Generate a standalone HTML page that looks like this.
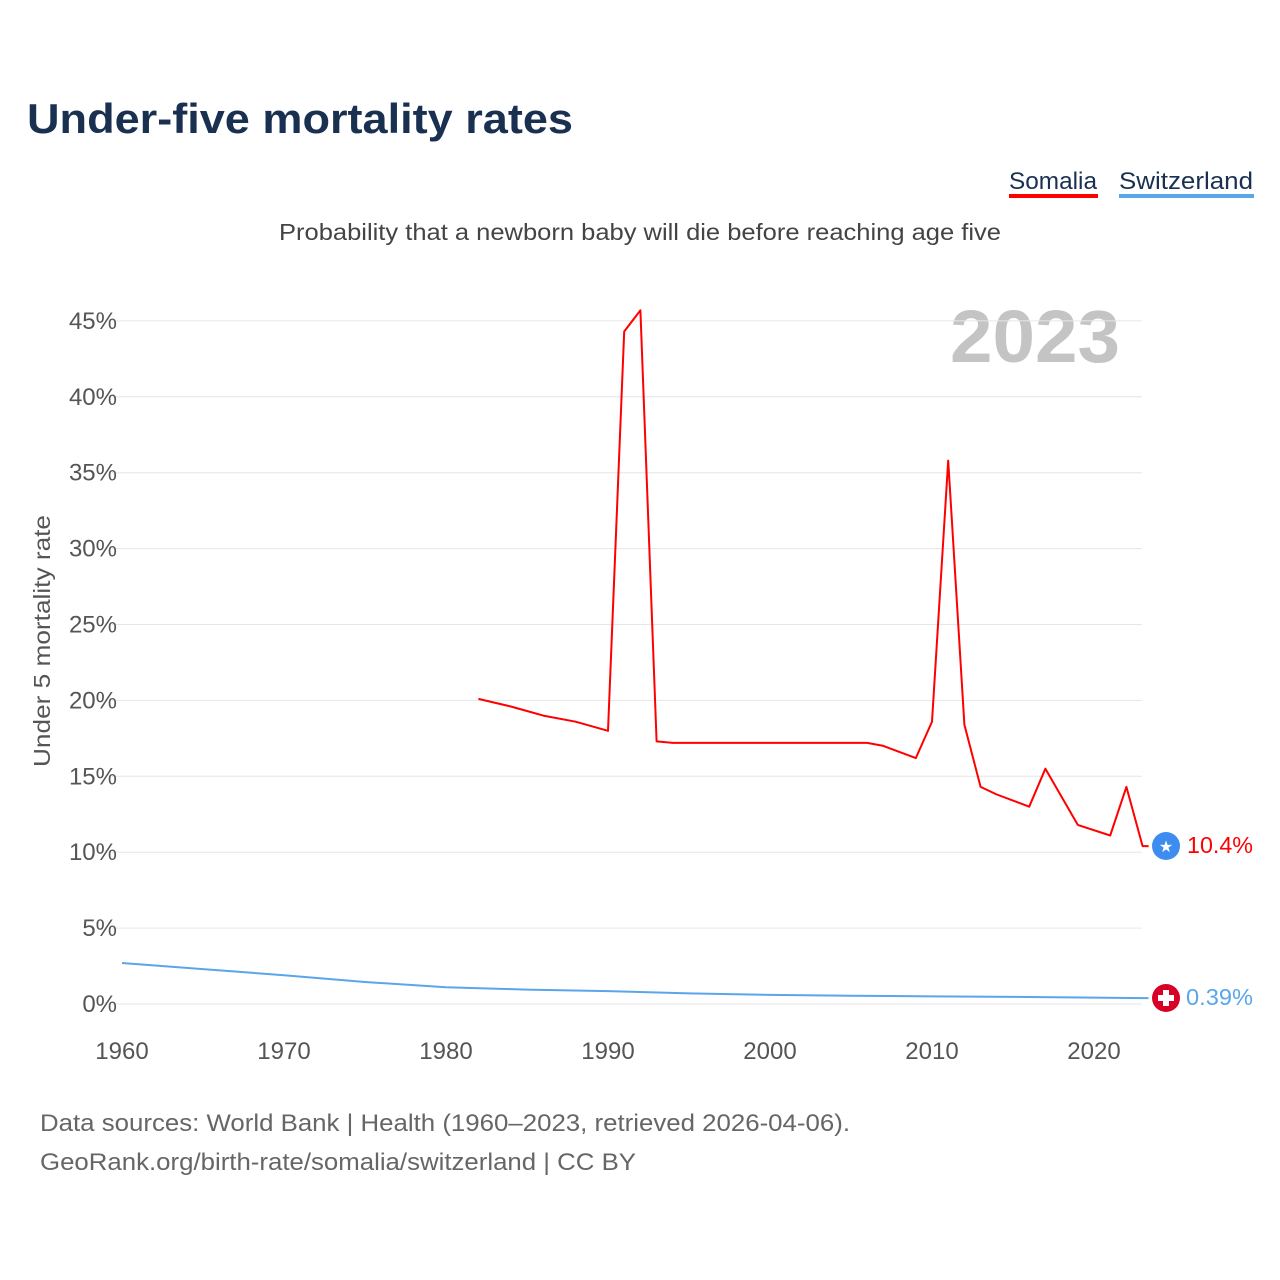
<!DOCTYPE html>
<html><head><meta charset="utf-8"><style>
html,body{margin:0;padding:0;background:#fff;}
svg{display:block;font-family:"Liberation Sans",sans-serif;}
</style></head><body>
<svg id="chart" width="1280" height="1280" viewBox="0 0 1280 1280">
<text x="27" y="133" font-size="42" font-weight="bold" fill="#1a3050" textLength="546" lengthAdjust="spacingAndGlyphs">Under-five mortality rates</text>
<g>
<text x="1009" y="189" font-size="24" fill="#1a3050" textLength="88" lengthAdjust="spacingAndGlyphs">Somalia</text>
<rect x="1009" y="194" width="89" height="4" fill="#ff0000"/>
</g>
<g>
<text x="1119" y="189" font-size="24" fill="#1a3050" textLength="134" lengthAdjust="spacingAndGlyphs">Switzerland</text>
<rect x="1119" y="194" width="135" height="4" fill="#5aa6ea"/>
</g>
<text x="640" y="240" font-size="23" fill="#444" text-anchor="middle" textLength="722" lengthAdjust="spacingAndGlyphs">Probability that a newborn baby will die before reaching age five</text>
<text x="950" y="362" font-size="74" font-weight="bold" fill="#c4c4c4" textLength="170" lengthAdjust="spacingAndGlyphs">2023</text>
<text transform="translate(50,641) rotate(-90)" font-size="23" fill="#555" text-anchor="middle" textLength="252" lengthAdjust="spacingAndGlyphs">Under 5 mortality rate</text>
<g id="grid"></g><g id="yticks"></g><g id="xticks"></g><g id="lines"></g>
<g>
<circle cx="1166" cy="846" r="14" fill="#3d8df0"/>
<text x="1166" y="852" font-size="16" fill="#fff" text-anchor="middle">★</text>
</g>
<text x="1187" y="853" font-size="23" fill="#ff0000" textLength="66" lengthAdjust="spacingAndGlyphs">10.4%</text>
<g>
<circle cx="1166" cy="998" r="14" fill="#d80027"/>
<rect x="1158" y="995" width="16" height="6" fill="#fff"/><rect x="1163" y="990" width="6" height="16" fill="#fff"/>
</g>
<text x="1186" y="1005" font-size="23" fill="#5aa6ea" textLength="67" lengthAdjust="spacingAndGlyphs">0.39%</text>
<text x="40" y="1131" font-size="24" fill="#666" textLength="810" lengthAdjust="spacingAndGlyphs">Data sources: World Bank | Health (1960–2023, retrieved 2026-04-06).</text>
<text x="40" y="1170" font-size="24" fill="#666" textLength="596" lengthAdjust="spacingAndGlyphs">GeoRank.org/birth-rate/somalia/switzerland | CC BY</text>
</svg>
<script>
const yTicks=[0,5,10,15,20,25,30,35,40,45];
const xTicks=[1960,1970,1980,1990,2000,2010,2020];
const somaliaYears=[1982,1984,1985,1986,1988,1990,1991,1992,1993,1994,2006,2007,2009,2010,2011,2012,2013,2014,2016,2017,2019,2021,2022,2023];
const somaliaValues=[20.1,19.6,19.3,19.0,18.6,18.0,44.3,45.7,17.3,17.2,17.2,17.0,16.2,18.6,35.8,18.4,14.3,13.8,13.0,15.5,11.8,11.1,14.3,10.4];
const swissYears=[1960,1965,1970,1975,1980,1985,1990,1995,2000,2005,2010,2015,2020,2023];
const swissValues=[2.7,2.3,1.9,1.45,1.1,0.95,0.85,0.7,0.6,0.55,0.5,0.47,0.42,0.39];
const NS='http://www.w3.org/2000/svg';
const X=y=>122+(y-1960)*16.2;
const Y=v=>1004-v*15.18;
function mk(tag,attrs,parent){const e=document.createElementNS(NS,tag);for(const k in attrs)e.setAttribute(k,attrs[k]);document.getElementById(parent).appendChild(e);return e;}
yTicks.forEach(t=>{
 const l=mk('line',{x1:112,x2:1142,y1:Y(t),y2:Y(t),stroke:'#e6e6e6','stroke-width':1},'grid');
 
 
 const tx=mk('text',{x:117,y:Y(t)+8,'font-size':24,fill:'#555','text-anchor':'end'},'yticks');
 tx.textContent=t+'%';
 
 
});
xTicks.forEach(t=>{
 const tx=mk('text',{x:X(t),y:1059,'font-size':24,fill:'#555','text-anchor':'middle'},'xticks');
 tx.textContent=t;
 
 
});
function line(xs,vs,color){
 let d=xs.map((x,i)=>(i?'L':'M')+X(x).toFixed(1)+','+Y(vs[i]).toFixed(1)).join(' ');
 d+=' L'+(X(xs[xs.length-1])+6).toFixed(1)+','+Y(vs[vs.length-1]).toFixed(1);
 return mk('path',{d:d,fill:'none',stroke:color,'stroke-width':2,'stroke-linejoin':'round'},'lines');
}
const s1=line(swissYears,swissValues,'#5aa6ea');


const s2=line(somaliaYears,somaliaValues,'#ff0000');


</script>
</body></html>
